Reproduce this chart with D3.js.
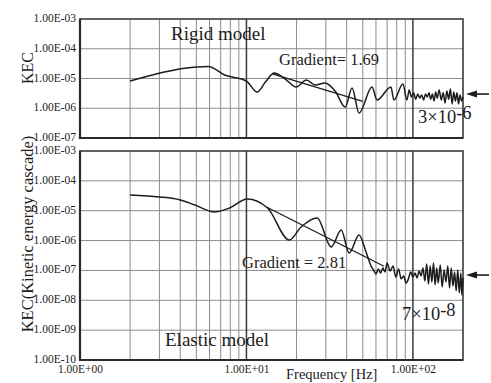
<!DOCTYPE html>
<html>
<head>
<meta charset="utf-8">
<script src="https://cdn.jsdelivr.net/npm/d3@7"></script>
<style>
  html, body { margin: 0; padding: 0; background: #fff; }
  svg { display: block; font-family: "Liberation Serif", "Times New Roman", serif; }
</style>
</head>
<body>
<svg id="chart" width="491" height="383"></svg>
<script>
// ---- data ----
const freqTicks = [1, 10, 100];
const freqTickLabels = ["1.00E+00", "1.00E+01", "1.00E+02"];
const minorFreqs = [2, 3, 4, 5, 6, 7, 8, 9, 20, 30, 40, 50, 60, 70, 80, 90];
const majorFreqs = [10, 100];

const rigidTicks = [1e-3, 1e-4, 1e-5, 1e-6, 1e-7];
const elasticTicks = [1e-3, 1e-4, 1e-5, 1e-6, 1e-7, 1e-8, 1e-9, 1e-10];

// Rigid model KEC spectrum
const rigidFreq = [2, 5.0, 5.9, 7.4, 10, 11.6, 13.0, 14.7, 17.1, 19.9, 22.9, 25.9, 29.7, 34.1,
  39.2, 43.1, 47.5, 56.8, 60.9, 73.8, 76.9, 87.1, 92.1,
  95, 98, 101, 104, 107, 110, 113, 116, 119, 122, 125, 128, 131, 134, 137, 140,
  144, 148, 152, 156, 160, 164, 168, 172, 176, 180, 184, 188, 192, 196, 200];
const rigidKEC = [8.2e-6, 2.44e-5, 2.55e-5, 1.31e-5, 8.2e-6, 3.5e-6, 7.6e-6, 1.53e-5, 9.6e-6, 5.2e-6,
  8.9e-6, 6.0e-6, 7.1e-6, 3.8e-6, 1.1e-6, 4.8e-6, 6.9e-7, 5.2e-6, 1.9e-6, 5.2e-6, 1.9e-6,
  6.5e-6, 1.9e-6,
  4.1e-6, 2.4e-6, 3.3e-6, 2.0e-6, 3.0e-6, 2.2e-6, 2.8e-6, 1.9e-6, 3.0e-6, 2.4e-6, 3.3e-6,
  2.0e-6, 3.0e-6, 1.75e-6, 3.5e-6, 2.2e-6, 4.1e-6, 1.9e-6, 3.3e-6, 1.5e-6, 3.8e-6, 2.0e-6,
  4.4e-6, 1.4e-6, 3.5e-6, 1.75e-6, 3.3e-6, 1.4e-6, 2.8e-6, 1.75e-6, 2.4e-6];

// Elastic model KEC spectrum
const elasticFreq = [2, 3, 4, 4.9, 6.4, 7.9, 10.1, 13.4, 18.1, 21.3, 26.6, 32.3, 37.1, 41.4,
  47.5, 52.3, 56.8,
  58, 60, 62, 64, 66, 68, 70, 73, 76, 79, 82, 85, 88, 91, 94, 97, 100, 103, 106, 109,
  112, 115, 118, 121, 124, 127, 130, 133, 136, 139, 142, 146, 150, 154, 158, 162, 166,
  170, 174, 178, 182, 186, 190, 194, 197, 200];
const elasticKEC = [3.36e-5, 2.9e-5, 2.3e-5, 1.56e-5, 9.1e-6, 1.23e-5, 2.47e-5, 1.23e-5, 1.04e-6,
  2.85e-6, 5.7e-6, 6.1e-7, 2.26e-6, 3.84e-7, 1.54e-6, 4.14e-7, 1.21e-7,
  1.03e-7, 7.6e-8, 1.12e-7, 8.2e-8, 1.21e-7, 8.9e-8, 1.77e-7, 9.6e-8, 1.41e-7, 6.0e-8,
  1.12e-7, 5.2e-8, 6.5e-8, 3.8e-8, 5.2e-8, 8.9e-8, 6.0e-8, 8.2e-8, 5.6e-8, 9.6e-8,
  6.5e-8, 1.21e-7, 4.4e-8, 1.64e-7, 3.5e-8, 1.41e-7, 4.1e-8, 1.77e-7, 3.3e-8, 1.21e-7,
  3.8e-8, 1.52e-7, 2.8e-8, 1.03e-7, 4.1e-8, 1.41e-7, 2.6e-8, 1.21e-7, 3.0e-8, 8.9e-8,
  2.05e-8, 1.03e-7, 1.76e-8, 8.2e-8, 1.5e-8, 5.6e-8];

// Fitted power-law slopes (start point, end frequency, gradient)
const rigidFit = { f0: 14.3, v0: 1.42e-5, f1: 50, gradient: 1.69 };
const elasticFit = { f0: 13.2, v0: 1.33e-5, f1: 67, gradient: 2.81 };

// High-frequency plateau levels
const rigidPlateau = 3e-6;
const elasticPlateau = 7e-8;

// ---- drawing ----
const svg = d3.select("#chart");
const ink = "#1c1c1c";
const serif = "'Liberation Serif', 'Times New Roman', serif";

const x = d3.scaleLog().domain([1, 200]).range([80, 463]);

const fmtE = v => {
  const e = Math.round(Math.log10(v));
  return "1.00E" + (e < 0 ? "-" : "+") + String(Math.abs(e)).padStart(2, "0");
};

const panels = [
  { top: 19, bottom: 138, domain: [1e-7, 1e-3], ticks: rigidTicks,
    freq: rigidFreq, kec: rigidKEC, fit: rigidFit, plateau: rigidPlateau },
  { top: 151, bottom: 360, domain: [1e-10, 1e-3], ticks: elasticTicks,
    freq: elasticFreq, kec: elasticKEC, fit: elasticFit, plateau: elasticPlateau }
];

panels.forEach(p => {
  p.y = d3.scaleLog().domain(p.domain).range([p.bottom, p.top]);
  const g = svg.append("g");
  const [x0, x1] = x.range();

  // horizontal grid
  g.selectAll("line.h").data(p.ticks.slice(1, -1)).join("line")
    .attr("x1", x0).attr("x2", x1)
    .attr("y1", d => p.y(d)).attr("y2", d => p.y(d))
    .attr("stroke", "#8c8c8c").attr("stroke-width", 1);

  // vertical grid
  g.selectAll("line.vm").data(minorFreqs).join("line")
    .attr("x1", d => x(d)).attr("x2", d => x(d))
    .attr("y1", p.top).attr("y2", p.bottom)
    .attr("stroke", "#8c8c8c").attr("stroke-width", 1);
  g.selectAll("line.vM").data(majorFreqs).join("line")
    .attr("x1", d => x(d)).attr("x2", d => x(d))
    .attr("y1", p.top).attr("y2", p.bottom)
    .attr("stroke", "#3a3a3a").attr("stroke-width", 1.5);

  // frame
  g.append("rect")
    .attr("x", x0).attr("y", p.top)
    .attr("width", x1 - x0).attr("height", p.bottom - p.top)
    .attr("fill", "none").attr("stroke", "#3a3a3a").attr("stroke-width", 1.6);
  g.append("path")
    .attr("d", `M${x0},${p.top}V${p.bottom}H${x1}`)
    .attr("fill", "none").attr("stroke", "#2a2a2a").attr("stroke-width", 2.2);

  // y axis labels
  const ax = g.append("g").attr("transform", `translate(${x0 - 1},0)`)
    .call(d3.axisLeft(p.y).tickValues(p.ticks).tickFormat(fmtE).tickSize(0).tickPadding(3));
  ax.select(".domain").remove();
  ax.selectAll("text")
    .attr("font-family", serif)
    .attr("font-size", 11.5).attr("fill", ink).attr("dy", "0.22em");

  // fitted slope line
  const fit = p.fit;
  const v1 = fit.v0 * Math.pow(fit.f1 / fit.f0, -fit.gradient);
  g.append("line")
    .attr("x1", x(fit.f0)).attr("y1", p.y(fit.v0))
    .attr("x2", x(fit.f1)).attr("y2", p.y(v1))
    .attr("stroke", ink).attr("stroke-width", 1.3);

  // spectrum
  const pts = p.freq.map((f, i) => [f, p.kec[i]]);
  g.append("path")
    .datum(pts)
    .attr("d", d3.line().x(d => x(d[0])).y(d => p.y(d[1])).curve(d3.curveMonotoneX))
    .attr("fill", "none").attr("stroke", ink).attr("stroke-width", 1.5)
    .attr("stroke-linejoin", "round");

  // plateau arrow
  const ya = p.y(p.plateau);
  g.append("path")
    .attr("d", `M466,${ya}L477,${ya - 3.5}L477,${ya + 3.5}Z`)
    .attr("fill", ink);
  g.append("line")
    .attr("x1", 475).attr("x2", 489).attr("y1", ya).attr("y2", ya)
    .attr("stroke", ink).attr("stroke-width", 1.6);
});

// x axis labels
const xa = svg.append("g").attr("transform", `translate(0,${panels[1].bottom})`)
  .call(d3.axisBottom(x).tickValues(freqTicks)
    .tickFormat((d, i) => freqTickLabels[i]).tickSize(0).tickPadding(5));
xa.select(".domain").remove();
xa.selectAll("text")
  .attr("font-family", serif)
  .attr("font-size", 11.5).attr("fill", ink);

// text annotations
const txt = (s, xx, yy, size, opts = {}) => {
  const t = svg.append("text").attr("x", xx).attr("y", yy)
    .attr("font-size", size).attr("fill", ink).text(s);
  if (opts.rotate) t.attr("transform", `rotate(-90,${xx},${yy})`).attr("text-anchor", "middle");
  return t;
};

txt("KEC", 33, 68, 16, { rotate: true });
txt("KEC(Kinetic energy cascade)", 33, 234, 16.5, { rotate: true });
txt("Frequency [Hz]", 286, 379, 14.5);
txt("Rigid model", 171, 40, 19);
txt("Elastic model", 165, 346, 19);
txt("Gradient= 1.69", 279, 65, 16.5);
txt("Gradient = 2.81", 242, 268, 16.5);

const sup = (base, exp, xx, yy) => {
  const t = svg.append("text").attr("x", xx).attr("y", yy)
    .attr("font-size", 18.5).attr("fill", ink);
  t.append("tspan").text(base);
  t.append("tspan").attr("dy", -4).text(exp);
};
sup("3×10", "-6", 418, 123);
sup("7×10", "-8", 402, 320);
</script>
</body>
</html>
